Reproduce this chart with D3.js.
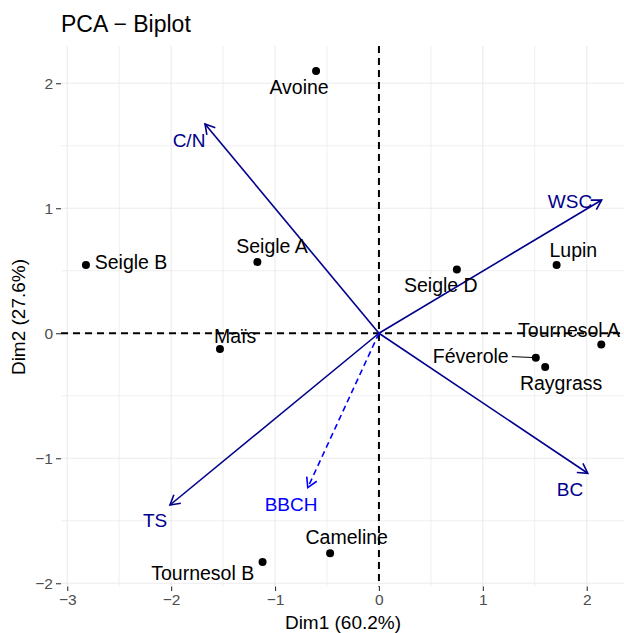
<!DOCTYPE html>
<html>
<head>
<meta charset="utf-8">
<script src="https://cdn.jsdelivr.net/npm/d3@7"></script>
<style>
  body { margin: 0; background: #fff; }
  text { font-family: "Liberation Sans", Arial, sans-serif; }
</style>
</head>
<body>
<div id="chart"></div>
<script>
// --- DONNÉES ---
const individus = ["Avoine", "Seigle B", "Seigle A", "Maïs", "Seigle D", "Lupin",
                   "Tournesol A", "Féverole", "Raygrass", "Cameline", "Tournesol B"];
const dim1 = [-0.605, -2.82, -1.17, -1.53, 0.75, 1.71, 2.14, 1.51, 1.60, -0.47, -1.12];
const dim2 = [2.098, 0.546, 0.57, -0.125, 0.51, 0.546, -0.09, -0.195, -0.27, -1.76, -1.83];
// position des étiquettes (repel)
const labDim1 = [-0.769, -2.386, -1.029, -1.385, 0.596, 1.871, 1.83, 0.884, 1.753, -0.31, -1.696];
const labDim2 = [1.97, 0.57, 0.693, -0.022, 0.386, 0.666, 0.026, -0.187, -0.40, -1.635, -1.92];

const variables = ["C/N", "WSC", "BC", "TS", "BBCH"];
const varDim1 = [-1.674, 2.144, 2.01, -2.011, -0.685];
const varDim2 = [1.674, 1.066, -1.12, -1.374, -1.235];
const varLabDim1 = [-1.828, 1.839, 1.839, -2.155, -0.846];
const varLabDim2 = [1.546, 1.058, -1.25, -1.50, -1.366];
const varSupp = [false, false, false, false, true]; // BBCH = variable supplémentaire

const ticks = [-3, -2, -1, 0, 1, 2];
const ticksY = [-2, -1, 0, 1, 2];

// --- CONFIGURATION ---
const largeur = 624, hauteur = 633;
const gauche = 61, haut = 46, bas = 586.5;

const svg = d3.select("#chart").append("svg")
  .attr("width", largeur).attr("height", hauteur);

const x = d3.scaleLinear().domain([-3.06, 2.4]).range([gauche, gauche + 5.46 * 103.9]);
const y = d3.scaleLinear().domain([-2.026, 2.298]).range([bas, haut]);
const droite = x.range()[1];

// grille
const grille = svg.append("g");
const mineursX = d3.range(-3, 2.6, 0.5), mineursY = d3.range(-2, 2.4, 0.5);
grille.selectAll(".gx").data(mineursX).join("line")
  .attr("x1", d => x(d)).attr("x2", d => x(d)).attr("y1", haut).attr("y2", bas)
  .attr("stroke", "#ebebeb").attr("stroke-width", d => Number.isInteger(d) ? 1.1 : 0.8);
grille.selectAll(".gy").data(mineursY).join("line")
  .attr("y1", d => y(d)).attr("y2", d => y(d)).attr("x1", gauche).attr("x2", droite)
  .attr("stroke", "#ebebeb").attr("stroke-width", d => Number.isInteger(d) ? 1.1 : 0.8);

// axes
const axeX = svg.append("g").attr("transform", `translate(0,${bas})`)
  .call(d3.axisBottom(x).tickValues(ticks).tickSize(4.5).tickPadding(3)
    .tickFormat(d => d < 0 ? "\u2212" + Math.abs(d) : d));
const axeY = svg.append("g").attr("transform", `translate(${gauche},0)`)
  .call(d3.axisLeft(y).tickValues(ticksY).tickSize(5).tickPadding(3)
    .tickFormat(d => d < 0 ? "\u2212" + Math.abs(d) : d));
[axeX, axeY].forEach(a => {
  a.select(".domain").remove();
  a.selectAll(".tick line").attr("stroke", "#333").attr("stroke-width", 1.1);
  a.selectAll(".tick text").attr("fill", "#4d4d4d").style("font-size", "15.5px")
    .style("font-family", "Liberation Sans, Arial, sans-serif");
});

// lignes pointillées à 0
svg.append("line").attr("x1", gauche).attr("x2", droite).attr("y1", y(0)).attr("y2", y(0))
  .attr("stroke", "#000").attr("stroke-width", 2).attr("stroke-dasharray", "7,5");
svg.append("line").attr("x1", x(0)).attr("x2", x(0)).attr("y1", haut).attr("y2", bas)
  .attr("stroke", "#000").attr("stroke-width", 2).attr("stroke-dasharray", "7,5");

// flèches des variables
const fleche = (g, x0, y0, x1, y1, couleur, dash) => {
  g.append("line").attr("x1", x0).attr("y1", y0).attr("x2", x1).attr("y2", y1)
    .attr("stroke", couleur).attr("stroke-width", 1.6).attr("stroke-dasharray", dash);
  const ang = Math.atan2(y1 - y0, x1 - x0), L = 11, a = Math.PI / 6;
  g.append("path")
    .attr("d", `M${x1 - L * Math.cos(ang - a)},${y1 - L * Math.sin(ang - a)} L${x1},${y1} L${x1 - L * Math.cos(ang + a)},${y1 - L * Math.sin(ang + a)}`)
    .attr("fill", "none").attr("stroke", couleur).attr("stroke-width", 1.6);
};
const gVar = svg.append("g");
variables.forEach((v, i) => {
  const c = varSupp[i] ? "#0000FF" : "#00008B";
  fleche(gVar, x(0), y(0), x(varDim1[i]), y(varDim2[i]), c, varSupp[i] ? "6,4" : null);
  gVar.append("text").attr("x", x(varLabDim1[i])).attr("y", y(varLabDim2[i]))
    .attr("text-anchor", "middle").attr("dy", "0.35em")
    .attr("fill", c).style("font-size", "19px").text(v);
});

// segment Féverole
const iF = individus.indexOf("Féverole");
svg.append("line").attr("x1", x(labDim1[iF]) + 41).attr("y1", y(labDim2[iF]))
  .attr("x2", x(dim1[iF])).attr("y2", y(dim2[iF]))
  .attr("stroke", "#000").attr("stroke-width", 1);

// individus
svg.append("g").selectAll("circle").data(individus).join("circle")
  .attr("cx", (d, i) => x(dim1[i])).attr("cy", (d, i) => y(dim2[i]))
  .attr("r", 4).attr("fill", "#000");
svg.append("g").selectAll("text").data(individus).join("text")
  .attr("x", (d, i) => x(labDim1[i])).attr("y", (d, i) => y(labDim2[i]))
  .attr("text-anchor", "middle").attr("dy", "0.35em")
  .attr("fill", "#000").style("font-size", "19.5px").text(d => d);

// titres
svg.append("text").attr("x", 61).attr("y", 32).attr("fill", "#000")
  .style("font-size", "23px").text("PCA \u2212 Biplot");
svg.append("text").attr("x", 343).attr("y", 629).attr("text-anchor", "middle")
  .attr("fill", "#000").style("font-size", "19px").text("Dim1 (60.2%)");
svg.append("text").attr("transform", "translate(25,317) rotate(-90)")
  .attr("text-anchor", "middle").attr("fill", "#000").style("font-size", "19px")
  .text("Dim2 (27.6%)");
</script>
</body>
</html>
